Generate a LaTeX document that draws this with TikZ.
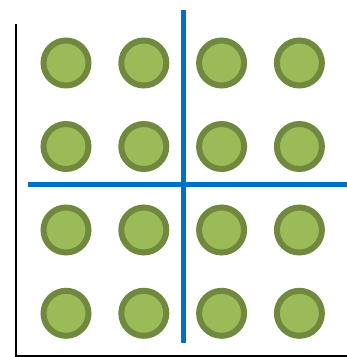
\documentclass[tikz,border=0pt]{standalone}
\usepackage{tikz}
\usetikzlibrary{positioning, calc}

\definecolor{dotfill}{HTML}{9BBB59}
\definecolor{dotedge}{HTML}{71893F}
\definecolor{splitblue}{HTML}{0070C0}

\tikzset{
  dot/.style={circle, draw=dotedge, fill=dotfill, line width=6pt, minimum size=45pt, inner sep=0pt},
  axisline/.style={black, line width=2pt},
  splitline/.style={splitblue, line width=4.5pt}
}

\begin{document}
\begin{tikzpicture}[x=1pt, y=-1pt]
                \useasboundingbox (0,0) rectangle (347,357);
                % axes
                \coordinate (axtop) at (16,24);
                \coordinate (axorigin) at (16,355.5);
                \coordinate (axright) at (347,355.5);
                \draw[axisline] (axtop) -- (axorigin) -- (axright);
                % dots
                \foreach \r/\y in {1/63, 2/146.5, 3/230, 4/313.3} {
                    \foreach \c/\x in {1/66, 2/143.8, 3/221.6, 4/299.4} {
                        \node[dot] (d\r\c) at (\x,\y) {};
                    }
                }
                % split lines
                \coordinate (vtop) at (183.5,10);
                \coordinate (vbottom) at (183.5,343);
                \coordinate (hleft) at (28,184.3);
                \coordinate (hright) at (347,184.3);
                \draw[splitline] (vtop) -- (vbottom);
                \draw[splitline] (hleft) -- (hright);
            \end{tikzpicture}
\end{document}
